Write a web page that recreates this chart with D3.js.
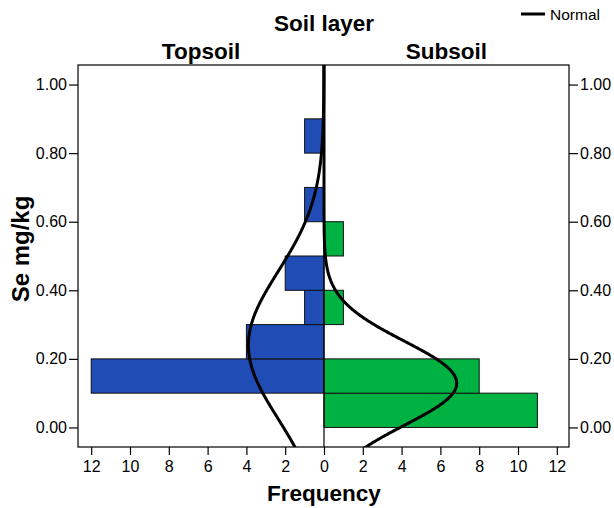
<!DOCTYPE html>
<html><head><meta charset="utf-8">
<script src="https://cdn.jsdelivr.net/npm/d3@7"></script>
<style>body{margin:0;background:#fff;} text{font-family:"Liberation Sans",Arial,sans-serif;}</style>
</head><body>
<svg id="c" width="614" height="508"></svg>
<script>
const binStarts = [0.0,0.1,0.2,0.3,0.4,0.5,0.6,0.7,0.8,0.9];
const topsoil =   [0, 12, 4, 1, 2, 0, 1, 0, 1, 0];
const subsoil =   [11, 8, 0, 1, 0, 1, 0, 0, 0, 0];
const binWidth = 0.1;
const topNormal = {mean:0.24, sd:0.215, n:21};
const subNormal = {mean:0.129, sd:0.1225, n:21};
const yTicks = [0,0.2,0.4,0.6,0.8,1.0];
const xTicks = [0,2,4,6,8,10,12];

const svg = d3.select("#c");
const L=78, R=569, T=65, B=447, C=324;
const y = d3.scaleLinear().domain([-0.057,1.057]).range([B,T]);
const xl = d3.scaleLinear().domain([0,12]).range([C, C-12*19.4]);
const xr = d3.scaleLinear().domain([0,12]).range([C, C+12*19.4]);

svg.append("defs").append("clipPath").attr("id","clip").append("rect")
  .attr("x",L).attr("y",T).attr("width",R-L).attr("height",B-T);

// bars
const g = svg.append("g");
g.selectAll(".bt").data(binStarts.map((s,i)=>({s,v:topsoil[i]})).filter(d=>d.v>0))
 .enter().append("rect")
 .attr("x",d=>xl(d.v)).attr("width",d=>xl(0)-xl(d.v))
 .attr("y",d=>y(d.s+binWidth)).attr("height",d=>y(d.s)-y(d.s+binWidth))
 .attr("fill","#1F4CB5").attr("stroke","#111").attr("stroke-width",1);
g.selectAll(".bs").data(binStarts.map((s,i)=>({s,v:subsoil[i]})).filter(d=>d.v>0))
 .enter().append("rect")
 .attr("x",xr(0)).attr("width",d=>xr(d.v)-xr(0))
 .attr("y",d=>y(d.s+binWidth)).attr("height",d=>y(d.s)-y(d.s+binWidth))
 .attr("fill","#00B241").attr("stroke","#111").attr("stroke-width",1);

// frame
svg.append("rect").attr("x",L).attr("y",T).attr("width",R-L).attr("height",B-T)
  .attr("fill","none").attr("stroke","#000").attr("stroke-width",1.2);
svg.append("line").attr("x1",C).attr("x2",C).attr("y1",T).attr("y2",B)
  .attr("stroke","#000").attr("stroke-width",1.2);

// normal curves
function curve(p){
  const ys = d3.range(-0.06,1.061,0.002);
  return ys.map(v=>[v, p.n*binWidth/(p.sd*Math.sqrt(2*Math.PI))*Math.exp(-((v-p.mean)**2)/(2*p.sd*p.sd))]);
}
const cg = svg.append("g").attr("clip-path","url(#clip)");
cg.append("path").datum(curve(topNormal))
  .attr("d",d3.line().x(d=>xl(d[1])).y(d=>y(d[0])))
  .attr("fill","none").attr("stroke","#000").attr("stroke-width",3);
cg.append("path").datum(curve(subNormal))
  .attr("d",d3.line().x(d=>xr(d[1])).y(d=>y(d[0])))
  .attr("fill","none").attr("stroke","#000").attr("stroke-width",3);

// axes
const fmt = d3.format(".2f");
const ayl = svg.append("g").attr("transform",`translate(${L},0)`)
  .call(d3.axisLeft(y).tickValues(yTicks).tickFormat(fmt).tickSize(9).tickPadding(2));
const ayr = svg.append("g").attr("transform",`translate(${R},0)`)
  .call(d3.axisRight(y).tickValues(yTicks).tickFormat(fmt).tickSize(9).tickPadding(2));
const axl = svg.append("g").attr("transform",`translate(0,${B})`)
  .call(d3.axisBottom(xl).tickValues(xTicks).tickSize(8).tickPadding(6));
const axr = svg.append("g").attr("transform",`translate(0,${B})`)
  .call(d3.axisBottom(xr).tickValues(xTicks.slice(1)).tickSize(8).tickPadding(6));
[ayl,ayr,axl,axr].forEach(a=>{
  a.select(".domain").remove();
  a.selectAll("line").attr("stroke","#000").attr("stroke-width",1.2);
  a.selectAll("text").attr("fill","#000").style("font-size","16px")
   .style("font-family","'Liberation Sans',Arial,sans-serif");
});

// titles
svg.append("text").attr("x",C).attr("y",31).attr("text-anchor","middle")
  .style("font-size","22.5px").style("font-weight","bold").text("Soil layer");
svg.append("text").attr("x",(L+C)/2).attr("y",59).attr("text-anchor","middle")
  .style("font-size","22.5px").style("font-weight","bold").text("Topsoil");
svg.append("text").attr("x",(C+R)/2).attr("y",59).attr("text-anchor","middle")
  .style("font-size","22.5px").style("font-weight","bold").text("Subsoil");
svg.append("text").attr("x",C).attr("y",501).attr("text-anchor","middle")
  .style("font-size","22.5px").style("font-weight","bold").text("Frequency");
svg.append("text").attr("transform",`translate(29,249) rotate(-90)`).attr("text-anchor","middle")
  .style("font-size","24px").style("font-weight","bold").text("Se mg/kg");

// legend
svg.append("line").attr("x1",521).attr("x2",545).attr("y1",14).attr("y2",14)
  .attr("stroke","#000").attr("stroke-width",3);
svg.append("text").attr("x",550).attr("y",19.5).style("font-size","15.5px").text("Normal");
</script>
</body></html>
